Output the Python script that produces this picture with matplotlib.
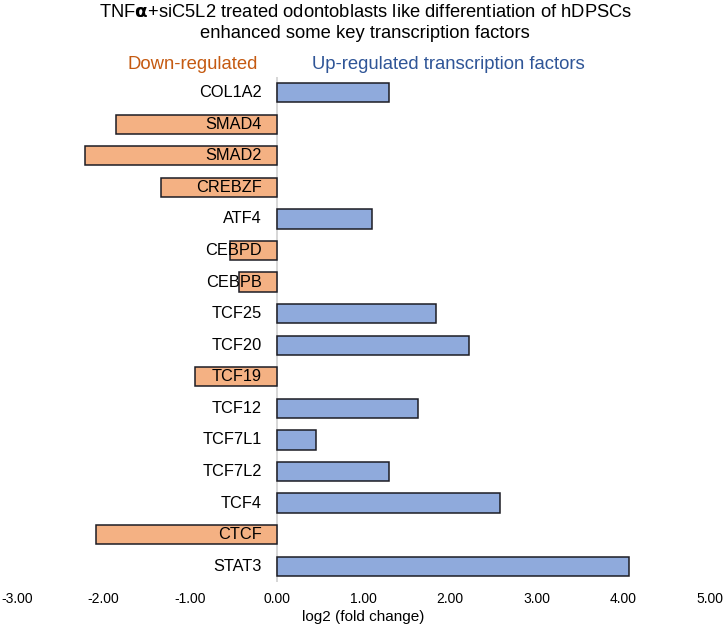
import matplotlib.pyplot as plt
import matplotlib.transforms as mtransforms

plt.rcParams['font.family'] = ['Liberation Sans', 'DejaVu Sans']

genes = ['COL1A2', 'SMAD4', 'SMAD2', 'CREBZF', 'ATF4', 'CEBPD', 'CEBPB',
         'TCF25', 'TCF20', 'TCF19', 'TCF12', 'TCF7L1', 'TCF7L2', 'TCF4',
         'CTCF', 'STAT3']
log2fc = [1.29, -1.86, -2.22, -1.34, 1.10, -0.54, -0.44,
          1.84, 2.22, -0.95, 1.63, 0.45, 1.30, 2.57,
          -2.09, 4.06]
xticks = [-3, -2, -1, 0, 1, 2, 3, 4, 5]

up_col = '#8FAADC'
down_col = '#F4B183'

fig = plt.figure(figsize=(7.26, 6.35), dpi=100)
ax = fig.add_axes([0.0234, 0.0835, 0.9546, 0.7955])

ypos = list(range(len(genes)))
colors = [up_col if v > 0 else down_col for v in log2fc]
ax.barh(ypos, log2fc, height=0.61, color=colors, edgecolor='#1c1c24',
        linewidth=1.1, zorder=2)

# gene names sit just left of zero, over the bars
off = mtransforms.offset_copy(ax.transData, fig=fig, x=-15, y=0, units='dots')
for y, g in zip(ypos, genes):
    ax.text(0, y, g, transform=off, ha='right', va='center',
            fontsize=11.8, zorder=3)

ax.set_xlim(-3, 5)
ax.set_ylim(len(genes) - 0.5, -0.5)
ax.set_xticks(xticks)
ax.set_xticklabels(['%.2f' % t for t in xticks], fontsize=10)
ax.set_yticks([])
ax.tick_params(axis='x', length=0, pad=7)
for s in ['top', 'right', 'bottom', 'left']:
    ax.spines[s].set_visible(False)
ax.axvline(0, color='#d0d0d0', lw=1.2, zorder=1)
ax.set_xlabel('log2 (fold change)', fontsize=11, labelpad=3)

fig.text(0.503, 0.993,
         'TNF$\\mathbf{\\alpha}$+siC5L2 treated odontoblasts like differentiation of hDPSCs\n'
         'enhanced some key transcription factors',
         ha='center', va='top', fontsize=13.2, linespacing=1.25)
fig.text(0.265, 0.899, 'Down-regulated', color='#C55A11', ha='center',
         va='center', fontsize=13.3)
fig.text(0.618, 0.899, 'Up-regulated transcription factors', color='#2F5597',
         ha='center', va='center', fontsize=13.3)

fig.savefig('out.png', dpi=100)
